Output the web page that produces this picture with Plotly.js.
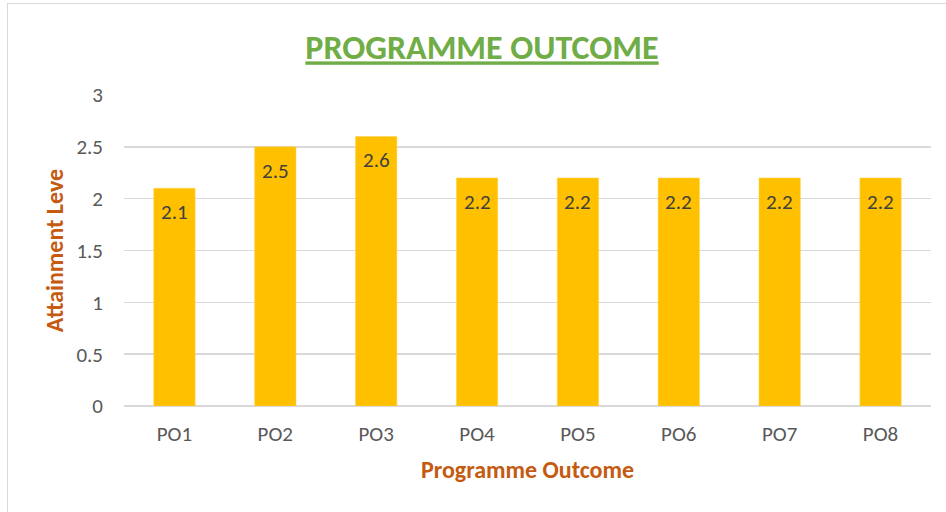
<!DOCTYPE html>
<html>
<head>
<meta charset="utf-8">
<script src="https://cdn.plot.ly/plotly-3.0.1.min.js"></script>
<style>
html,body{margin:0;padding:0;background:#fff;overflow:hidden;}
#chart{width:946px;height:512px;position:absolute;left:0;top:0;}
#frame{position:absolute;left:7px;top:3px;width:1000px;height:1000px;border:1.5px solid #d9d9d9;pointer-events:none;}
</style>
</head>
<body>
<div id="chart"></div>
<div id="frame"></div>
<script>
const categories = ["PO1","PO2","PO3","PO4","PO5","PO6","PO7","PO8"];
const attainment = [2.1, 2.5, 2.6, 2.2, 2.2, 2.2, 2.2, 2.2];
const yTicks = [0, 0.5, 1, 1.5, 2, 2.5, 3];
const yTickLabels = ["0","0.5","1","1.5","2","2.5","3"];
const chartTitle = "PROGRAMME OUTCOME";
const xTitle = "Programme Outcome";
const yTitle = "Attainment Leve";

const font = "Carlito, Calibri, Lato, 'Open Sans', sans-serif";

const labels = categories.map((c, i) => ({
  x: c, y: attainment[i], xref: "x", yref: "y",
  text: attainment[i].toFixed(1),
  showarrow: false, yanchor: "top", yshift: -9,
  font: {family: font, size: 21, color: "#404040"}
}));

Plotly.newPlot("chart", [{
  type: "bar",
  x: categories,
  y: attainment,
  width: 0.41,
  marker: {color: "#FFC000", line: {color: "#FFD54F", width: 0.5}},
  hoverinfo: "none",
  cliponaxis: false
}], {
  width: 946, height: 512,
  margin: {l: 124, r: 15, t: 95, b: 106},
  paper_bgcolor: "#fff",
  plot_bgcolor: "#fff",
  showlegend: false,
  annotations: labels,
  title: {
    text: '<b><span style="text-decoration:underline">' + chartTitle + '</span></b>',
    font: {family: font, size: 34, color: "#70AD47"},
    x: 482/946, xref: "container", xanchor: "center",
    y: 42, yref: "container", yanchor: "middle"
  },
  xaxis: {
    showgrid: false, zeroline: false,
    showline: false,
    ticks: "",
    tickfont: {family: font, size: 21, color: "#595959"},
    ticklabelstandoff: 13,
    title: {text: "<b>" + xTitle + "</b>", font: {family: font, size: 24, color: "#C55A11"}, standoff: 15}
  },
  yaxis: {
    range: [0, 3],
    tickvals: yTicks,
    ticktext: yTickLabels,
    showgrid: true, gridcolor: "#d9d9d9", gridwidth: 1.5,
    zeroline: true, zerolinecolor: "#d9d9d9", zerolinewidth: 1.5,
    ticks: "",
    tickfont: {family: font, size: 21, color: "#595959"},
    ticklabelstandoff: 20,
    title: {text: "<b>" + yTitle + "</b>", font: {family: font, size: 24, color: "#C55A11"}, standoff: 6}
  },
  bargap: 0.59
}, {displayModeBar: false, staticPlot: true});
</script>
</body>
</html>
